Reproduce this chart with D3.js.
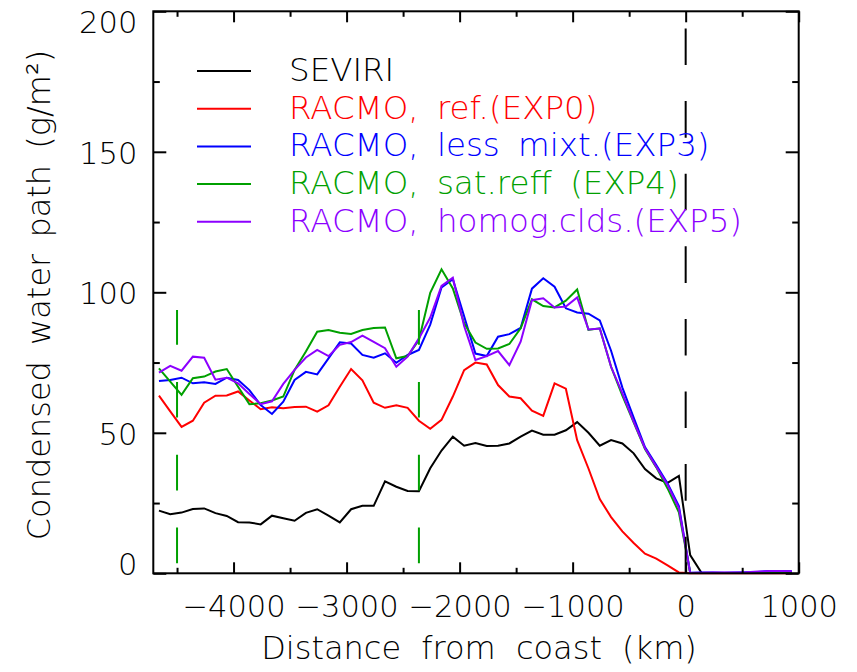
<!DOCTYPE html>
<html><head><meta charset="utf-8">
<script src="https://cdn.jsdelivr.net/npm/d3@7"></script>
<style>
body{margin:0;background:#fff}
svg{display:block}
text{font-family:"DejaVu Sans ExtraLight","DejaVu Sans",sans-serif;font-weight:200;fill:#000}
</style>
</head><body>
<svg id="chart" width="857" height="672"></svg>
<script>
// ---- data ----
const distance = [-4660,-4560,-4460,-4360,-4260,-4160,-4060,-3960,-3860,-3760,
  -3660,-3560,-3460,-3360,-3260,-3160,-3060,-2960,-2860,-2760,
  -2660,-2560,-2460,-2360,-2260,-2160,-2060,-1960,-1860,-1760,
  -1660,-1560,-1460,-1360,-1260,-1160,-1060,-960,-860,-760,
  -660,-560,-460,-360,-260,-160,-60,40,140,240,
  340,440,540,640,740,840,940];
const seviri = [22.3,21.0,21.6,22.9,23.1,21.4,20.4,18.2,18.1,17.4,
  20.5,19.6,18.7,21.5,22.8,20.5,18.1,22.8,24.0,24.0,
  32.7,30.8,29.3,29.2,37.4,43.7,48.6,45.4,46.4,45.3,
  45.4,46.2,48.6,50.8,49.3,49.3,50.9,53.8,50.0,45.4,
  47.4,46.2,42.7,37.1,33.8,32.2,34.7,6.5,0.2,0.1,
  0.1,0.1,0.1,0.1,0.1,0.1,0.1];
const exp0 = [63.2,57.6,52.1,54.3,60.7,63.2,63.3,64.7,61.5,58.4,
  59.1,58.7,59.2,59.3,57.5,59.8,66.4,72.7,68.7,60.7,
  58.9,59.8,58.9,54.3,51.4,54.6,62.9,72.3,75.0,74.3,
  67.0,62.9,62.3,57.9,56.0,67.6,65.7,47.4,37.3,26.4,
  20.0,14.9,10.8,7.0,5.2,2.8,0.3,0,0,0,
  0,0,0,0,0,0,0];
const exp3 = [68.4,68.8,69.6,67.6,68.0,67.4,69.6,68.8,65.2,59.9,
  56.7,61.1,68.8,71.7,70.8,76.5,82.2,81.8,77.7,76.7,
  78.3,74.9,77.7,79.5,88.5,101.7,104.7,91.5,78.2,77.3,
  84.2,85.1,87.3,101.3,105.0,102.0,94.3,92.8,92.4,90.0,
  79.2,66.1,55.4,44.9,38.5,32.0,23.9,0.2,0.3,0.3,
  0.2,0.3,0.4,0.5,0.8,0.8,0.7];
const exp4 = [72.9,68.2,63.5,69.4,70.0,71.8,72.7,66.4,60.2,60.5,
  61.5,62.9,72.4,78.9,86.0,86.6,85.6,85.2,86.6,87.3,
  87.5,76.5,77.3,83.0,99.8,108.2,101.4,89.0,82.1,79.9,
  80.0,81.6,87.2,97.5,95.1,94.6,97.0,101.0,86.6,87.2,
  73.5,63.2,53.7,44.2,37.7,30.2,21.7,0.2,0.1,0.1,
  0.1,0.1,0.1,0.2,0.2,0.2,0.2];
const exp5 = [71.4,73.8,72.1,77.1,76.7,68.9,69.6,67.6,63.8,60.2,
  61.2,67.4,72.4,76.8,79.5,77.3,81.3,82.3,84.6,82.4,
  80.1,73.5,77.1,83.6,91.0,102.3,105.2,88.0,75.9,77.3,
  79.1,74.1,82.4,97.2,97.9,94.6,94.9,98.2,86.8,87.1,
  73.5,64.0,54.0,44.5,37.9,31.4,23.1,0.1,0.2,0.3,
  0.3,0.3,0.4,0.6,0.8,0.8,0.7];
const seriesNames = ["SEVIRI","RACMO, ref.(EXP0)","RACMO, less mixt.(EXP3)","RACMO, sat.reff (EXP4)","RACMO, homog.clds.(EXP5)"];
const seriesColors = ["#000000","#ff0000","#0000ff","#00a000","#8c00ff"];
const seriesValues = [seviri, exp0, exp3, exp4, exp5];
const xMajorTicks = [-4000,-3000,-2000,-1000,0,1000];
const xMinorTicks = [-4500,-3500,-2500,-1500,-500,500];
const yMajorTicks = [0,50,100,150,200];
const yMinorTicks = [25,75,125,175];
const guideX = [-4500,-2360];   // green dashed markers
const guideRange = [3.6,93.7];
const coastX = 0;
const xTitle = "Distance from coast (km)";
const yTitle = "Condensed water path (g/m²)";

// ---- layout ----
const svg = d3.select("#chart");
const x = d3.scaleLinear().domain([-4710,1000]).range([153.3,798.7]);
const y = d3.scaleLinear().domain([0,200]).range([573.3,11.3]);
const X0 = x.range()[0], X1 = x.range()[1], Y0 = y.range()[0], Y1 = y.range()[1];

// data lines
const line = d3.line().x((d,i)=>x(distance[i])).y(d=>y(d));
seriesValues.forEach((vals,si)=>{
  svg.append("path").datum(vals).attr("d",line)
    .attr("fill","none").attr("stroke",seriesColors[si])
    .attr("stroke-width",2).attr("stroke-linejoin","miter");
});

// green dashed guides
svg.selectAll(".guide").data(guideX).enter().append("line")
  .attr("x1",d=>x(d)).attr("x2",d=>x(d))
  .attr("y1",y(guideRange[0])).attr("y2",y(guideRange[1]))
  .attr("stroke","#00a000").attr("stroke-width",2)
  .attr("stroke-dasharray","35.6,37.2");

// coast dashed line
svg.append("line").attr("x1",x(coastX)).attr("x2",x(coastX))
  .attr("y1",Y0).attr("y2",Y1)
  .attr("stroke","#000").attr("stroke-width",2)
  .attr("stroke-dasharray","36.6,36");

// axes
function styleAxis(g){
  g.select(".domain").remove();
  g.selectAll(".tick line").attr("stroke","#000").attr("stroke-width",2);
  g.selectAll("text").attr("font-family",null).attr("font-size",30.5).attr("fill","#000");
}
const fmt = d3.format("d");
const gB = svg.append("g").attr("transform",`translate(0,${Y0})`)
  .call(d3.axisBottom(x).tickValues(xMajorTicks).tickSizeInner(-11).tickSizeOuter(0).tickPadding(22).tickFormat(fmt));
styleAxis(gB);
const gBm = svg.append("g").attr("transform",`translate(0,${Y0})`)
  .call(d3.axisBottom(x).tickValues(xMinorTicks).tickSize(-5.5).tickFormat(""));
styleAxis(gBm);
const gT = svg.append("g").attr("transform",`translate(0,${Y1})`)
  .call(d3.axisTop(x).tickValues(xMajorTicks).tickSize(-11).tickFormat(""));
styleAxis(gT);
const gTm = svg.append("g").attr("transform",`translate(0,${Y1})`)
  .call(d3.axisTop(x).tickValues(xMinorTicks).tickSize(-5.5).tickFormat(""));
styleAxis(gTm);
const gL = svg.append("g").attr("transform",`translate(${X0},0)`)
  .call(d3.axisLeft(y).tickValues(yMajorTicks).tickSize(-13).tickPadding(16).tickFormat(fmt));
styleAxis(gL);
gL.selectAll(".tick text").attr("dy",d=> d===200 ? "0.7em" : (d===0 ? "0.05em" : "0.38em"));
const gLm = svg.append("g").attr("transform",`translate(${X0},0)`)
  .call(d3.axisLeft(y).tickValues(yMinorTicks).tickSize(-6.5).tickFormat(""));
styleAxis(gLm);
const gR = svg.append("g").attr("transform",`translate(${X1},0)`)
  .call(d3.axisRight(y).tickValues(yMajorTicks).tickSize(-13).tickFormat(""));
styleAxis(gR);
const gRm = svg.append("g").attr("transform",`translate(${X1},0)`)
  .call(d3.axisRight(y).tickValues(yMinorTicks).tickSize(-6.5).tickFormat(""));
styleAxis(gRm);

// frame
svg.append("rect").attr("x",X0).attr("y",Y1).attr("width",X1-X0).attr("height",Y0-Y1)
  .attr("fill","none").attr("stroke","#000").attr("stroke-width",2);

// axis titles
svg.append("text").attr("x",479).attr("y",659)
  .attr("text-anchor","middle").attr("font-size",32).style("word-spacing","10px")
  .text(xTitle);
svg.append("text").attr("transform","translate(50,295) rotate(-90)")
  .attr("text-anchor","middle").attr("font-size",32).style("word-spacing","6px")
  .text(yTitle);

// legend
const leg = svg.append("g");
seriesNames.forEach((name,i)=>{
  const ly = 71 + i*37.7;
  leg.append("line").attr("x1",197).attr("x2",251).attr("y1",ly).attr("y2",ly)
    .attr("stroke",seriesColors[i]).attr("stroke-width",2);
  leg.append("text").attr("x",289).attr("y",ly+10).attr("font-size",32.5)
    .style("word-spacing","8px").style("fill",seriesColors[i]).text(name);
});
</script>
</body></html>
